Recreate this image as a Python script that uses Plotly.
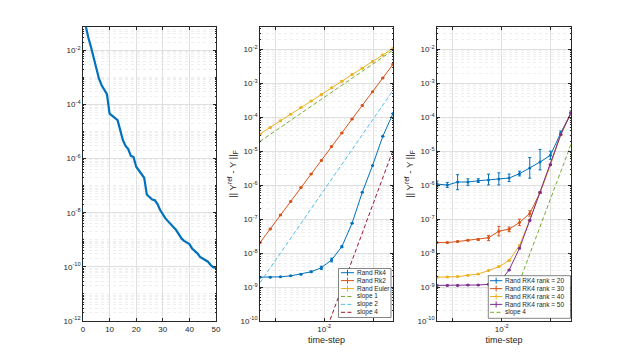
import plotly.graph_objects as go

# ---------------- data ----------------
# left panel
iter_idx = list(range(0, 51))
sv_log = [-0.65, -1.14, -1.53, -1.88, -2.27, -2.68, -3.05, -3.29, -3.45, -3.62,
          -4.34, -4.41, -4.48, -4.58, -4.95, -5.32, -5.53, -5.65, -5.90, -5.94,
          -6.30, -6.43, -6.55, -6.71, -7.33, -7.44, -7.51, -7.54, -7.68, -7.90,
          -8.06, -8.21, -8.32, -8.42, -8.52, -8.64, -8.79, -8.95, -9.04, -9.11,
          -9.16, -9.32, -9.40, -9.50, -9.63, -9.69, -9.72, -9.81, -9.93, -10.02,
          -10.03]
sv_values = [10 ** v for v in sv_log]

# time steps (shared by middle and right panels)
dt = [4.81e-4, 7.80e-4, 1.262e-3, 2.047e-3, 3.32e-3, 5.37e-3, 8.71e-3,
      1.41e-2, 2.29e-2, 3.71e-2, 6.01e-2, 9.75e-2, 0.158, 0.256]
dt_ends = [dt[0], dt[-1]]

# middle panel
rand_rk4 = [1.95e-9, 1.95e-9, 2.0e-9, 2.14e-9, 2.40e-9, 2.82e-9, 3.72e-9,
            6.3e-9, 1.55e-8, 7.6e-8, 6.2e-7, 3.8e-6, 2.75e-5, 1.29e-4]
rand_rk4_err = [0, 0, 0, 0.05e-9, 0.1e-9, 0.15e-9, 0.4e-9,
                0.8e-9, 1.0e-9, 0, 0, 0, 0, 0]
rand_rk2 = [2.04e-8, 5.13e-8, 1.32e-7, 3.31e-7, 8.51e-7, 2.14e-6, 5.37e-6,
            1.38e-5, 3.47e-5, 8.91e-5, 2.24e-4, 5.62e-4, 1.45e-3, 3.63e-3]
rand_euler = [3.24e-5, 5.0e-5, 7.9e-5, 1.23e-4, 1.95e-4, 3.0e-4, 4.7e-4,
              7.4e-4, 1.15e-3, 1.82e-3, 2.8e-3, 4.4e-3, 6.9e-3, 1.07e-2]
slope1_mid = [1.95e-5, 9.5e-3]
slope2_mid = [1.35e-9, 6.2e-4]
slope4_mid = [3.0e-16, 1.07e-5]

# right panel
rank20 = [1.08e-6, 1.01e-6, 1.24e-6, 1.24e-6, 1.35e-6, 1.42e-6, 1.52e-6,
          1.63e-6, 2.18e-6, 3.21e-6, 4.82e-6, 7.59e-6, 3.46e-5, 1.35e-4]
rank20_plus = [0.25e-6, 0.2e-6, 0.8e-6, 0.3e-6, 0.2e-6, 0.7e-6, 0.8e-6,
               0.5e-6, 0.4e-6, 3.3e-6, 6.5e-6, 2.5e-6, 0.5e-5, 0.2e-4]
rank20_minus = [0.2e-6, 0.15e-6, 0.5e-6, 0.25e-6, 0.15e-6, 0.4e-6, 0.5e-6,
                0.35e-6, 0.3e-6, 1.6e-6, 2.0e-6, 1.8e-6, 0.4e-5, 0.2e-4]
rank30 = [2.04e-8, 2.04e-8, 2.19e-8, 2.40e-8, 2.52e-8, 2.83e-8, 4.42e-8,
          5.07e-8, 7.98e-8, 1.47e-7, 6.12e-7, 4.02e-6, 3.09e-5, 1.35e-4]
rank30_plus = [0.05e-8, 0.05e-8, 0.1e-8, 0.1e-8, 0.15e-8, 0.5e-8, 1.7e-8,
               0.8e-8, 2.0e-8, 3.0e-8, 0.2e-7, 0.1e-6, 0.1e-5, 0.1e-4]
rank30_minus = [0.05e-8, 0.05e-8, 0.1e-8, 0.1e-8, 0.15e-8, 0.5e-8, 1.2e-8,
                0.8e-8, 1.5e-8, 2.5e-8, 0.2e-7, 0.1e-6, 0.1e-5, 0.1e-4]
rank40 = [1.94e-9, 1.98e-9, 2.03e-9, 2.22e-9, 2.43e-9, 3.05e-9, 4.0e-9,
          6.02e-9, 1.67e-8, 9.55e-8, 6.12e-7, 4.02e-6, 3.09e-5, 1.35e-4]
rank50 = [1.12e-9, 1.12e-9, 1.12e-9, 1.15e-9, 1.15e-9, 1.20e-9, 1.32e-9,
          3.19e-9, 1.39e-8, 9.14e-8, 6.12e-7, 4.02e-6, 3.09e-5, 1.35e-4]
slope4_right = [5.0e-16, 1.6e-5]

# tick labels
left_y_ticks = [1e-12, 1e-10, 1e-8, 1e-6, 1e-4, 1e-2]
left_y_text = ["10<sup>-12</sup>", "10<sup>-10</sup>", "10<sup>-8</sup>",
               "10<sup>-6</sup>", "10<sup>-4</sup>", "10<sup>-2</sup>"]
left_x_ticks = [0, 10, 20, 30, 40, 50]
err_y_ticks = [1e-10, 1e-9, 1e-8, 1e-7, 1e-6, 1e-5, 1e-4, 1e-3, 1e-2]
err_y_text = ["10<sup>-10</sup>", "10<sup>-9</sup>", "10<sup>-8</sup>",
              "10<sup>-7</sup>", "10<sup>-6</sup>", "10<sup>-5</sup>",
              "10<sup>-4</sup>", "10<sup>-3</sup>", "10<sup>-2</sup>"]
dt_label_ticks = [1e-2]
dt_label_text = ["10<sup>-2</sup>"]
dt_unlabeled_ticks = [1e-3, 1e-1]

mid_names = ["Rand Rk4", "Rand Rk2", "Rand Euler", "slope 1", "slope 2", "slope 4"]
right_names = ["Rand RK4 rank = 20", "Rand RK4 rank = 30", "Rand RK4 rank = 40",
               "Rand RK4 rank = 50", "slope 4"]

# ---------------- style ----------------
C_BLUE, C_ORANGE, C_YELLOW = "#0072BD", "#D95319", "#EDB120"
C_PURPLE, C_GREEN, C_CYAN, C_RED = "#7E2F8E", "#77AC30", "#4DBEEE", "#A2142F"
AX = "#262626"
FONT = "Liberation Sans, Arial, sans-serif"
GRID = "#e0e0e0"
MINOR = "#efefef"
DASH = "4px,2.5px"

OFF = 8                      # page body margin
W, H = 630 - OFF, 361 - OFF
ML, MR, MT, MB = 83 - OFF, 59, 27 - OFF, 40
PW, PH = W - ML - MR, H - MT - MB


def px_x(p):                 # page pixel -> paper fraction
    return (p - OFF - ML) / PW


def px_y(p):
    return (H + OFF - MB - p) / PH


fig = go.Figure()

# left
fig.add_trace(go.Scatter(x=iter_idx, y=sv_values, mode="lines",
                         line=dict(color=C_BLUE, width=2.2),
                         xaxis="x", yaxis="y", showlegend=False))


def err_trace(x, y, color, name, xa, ya, arr=None, plus=None, minus=None):
    if plus is not None:
        ey = dict(type="data", symmetric=False, array=plus, arrayminus=minus,
                  color=color, thickness=1, width=1.5)
    elif arr is not None:
        ey = dict(type="data", array=arr, color=color, thickness=1, width=1.5)
    else:
        ey = dict(type="percent", value=3, color=color, thickness=1, width=1.5)
    return go.Scatter(x=x, y=y, mode="lines+markers", name=name,
                      line=dict(color=color, width=1),
                      marker=dict(color=color, size=3),
                      error_y=ey, xaxis=xa, yaxis=ya, showlegend=False)


# middle
fig.add_trace(err_trace(dt, rand_rk4, C_BLUE, mid_names[0], "x2", "y2", arr=rand_rk4_err))
fig.add_trace(err_trace(dt, rand_rk2, C_ORANGE, mid_names[1], "x2", "y2"))
fig.add_trace(err_trace(dt, rand_euler, C_YELLOW, mid_names[2], "x2", "y2"))
for yv, col, nm in [(slope1_mid, C_GREEN, mid_names[3]),
                    (slope2_mid, C_CYAN, mid_names[4]),
                    (slope4_mid, C_RED, mid_names[5])]:
    fig.add_trace(go.Scatter(x=dt_ends, y=yv, mode="lines", name=nm,
                             line=dict(color=col, width=1, dash=DASH),
                             xaxis="x2", yaxis="y2", showlegend=False))

# right
fig.add_trace(err_trace(dt, rank20, C_BLUE, right_names[0], "x3", "y3",
                        plus=rank20_plus, minus=rank20_minus))
fig.add_trace(err_trace(dt, rank30, C_ORANGE, right_names[1], "x3", "y3",
                        plus=rank30_plus, minus=rank30_minus))
fig.add_trace(err_trace(dt, rank40, C_YELLOW, right_names[2], "x3", "y3"))
fig.add_trace(err_trace(dt, rank50, C_PURPLE, right_names[3], "x3", "y3"))
fig.add_trace(go.Scatter(x=dt_ends, y=slope4_right, mode="lines", name=right_names[4],
                         line=dict(color=C_GREEN, width=1, dash=DASH),
                         xaxis="x3", yaxis="y3", showlegend=False))

common = dict(showline=True, linecolor=AX, linewidth=0.8, mirror="allticks",
              ticks="inside", ticklen=3, tickcolor=AX, showgrid=True,
              gridcolor=GRID, gridwidth=1, zeroline=False,
              tickfont=dict(family=FONT, size=8, color=AX))
minor_log = dict(dtick="D1", showgrid=True, gridcolor=MINOR, griddash="dot",
                 ticks="inside", ticklen=1.5, tickcolor=AX)
minor_dt = dict(tickvals=dt_unlabeled_ticks, showgrid=True, gridcolor=GRID,
                griddash="solid", ticks="inside", ticklen=3, tickcolor=AX)

dom_y = [0, 1]
d1 = [px_x(83), px_x(216)]
d2 = [px_x(260), px_x(393)]
d3 = [px_x(437), px_x(571)]

ytitle = dict(text="|| Y<sup>ref</sup> - Y ||<sub>F</sub>",
              font=dict(family=FONT, size=9.5, color=AX), standoff=2)
xtitle = dict(text="time-step", font=dict(family=FONT, size=9, color=AX), standoff=4)

fig.update_layout(
    width=W, height=H, margin=dict(l=ML, r=MR, t=MT, b=MB),
    paper_bgcolor="white", plot_bgcolor="white", showlegend=False,
    xaxis=dict(domain=d1, range=[0, 50], tickvals=left_x_ticks, anchor="y", **common),
    yaxis=dict(domain=dom_y, type="log", range=[-12, -1.14], tickvals=left_y_ticks,
               ticktext=left_y_text, anchor="x", minor=minor_log, **common),
    xaxis2=dict(domain=d2, type="log", range=[-3.318, -0.592], tickvals=dt_label_ticks,
                ticktext=dt_label_text, anchor="y2", title=xtitle, minor=minor_dt, **common),
    yaxis2=dict(domain=dom_y, type="log", range=[-10, -1.34], tickvals=err_y_ticks,
                ticktext=err_y_text, anchor="x2", minor=minor_log, title=ytitle, **common),
    xaxis3=dict(domain=d3, type="log", range=[-3.318, -0.592], tickvals=dt_label_ticks,
                ticktext=dt_label_text, anchor="y3", title=xtitle, minor=minor_dt, **common),
    yaxis3=dict(domain=dom_y, type="log", range=[-10, -1.34], tickvals=err_y_ticks,
                ticktext=err_y_text, anchor="x3", minor=minor_log, title=ytitle, **common),
)

# ---------------- legends (drawn compactly, MATLAB style) ----------------
shapes = []
annots = []


def add_legend(box, names, colors, dashes, errbars, sample, text_x, row0, pitch):
    x0, x1, y0, y1 = box
    shapes.append(dict(type="rect", xref="paper", yref="paper", layer="above",
                       x0=px_x(x0), x1=px_x(x1), y0=px_y(y1), y1=px_y(y0),
                       fillcolor="white", line=dict(color="#333333", width=0.6)))
    for i, (nm, col, ds, eb) in enumerate(zip(names, colors, dashes, errbars)):
        yy = row0 + i * pitch
        shapes.append(dict(type="line", xref="paper", yref="paper", layer="above",
                           x0=px_x(sample[0]), x1=px_x(sample[1]),
                           y0=px_y(yy), y1=px_y(yy),
                           line=dict(color=col, width=1, dash=ds)))
        if eb:
            xm = (sample[0] + sample[1]) / 2
            shapes.append(dict(type="line", xref="paper", yref="paper", layer="above",
                               x0=px_x(xm), x1=px_x(xm),
                               y0=px_y(yy - 3), y1=px_y(yy + 3),
                               line=dict(color=col, width=1)))
        annots.append(dict(x=px_x(text_x), y=px_y(yy), xref="paper", yref="paper",
                           text=nm, showarrow=False, xanchor="left", yanchor="middle",
                           font=dict(family=FONT, size=6.5, color=AX)))


add_legend((338.5, 391, 268.5, 317.5), mid_names,
           [C_BLUE, C_ORANGE, C_YELLOW, C_GREEN, C_CYAN, C_RED],
           ["solid", "solid", "solid", DASH, DASH, DASH],
           [True, True, True, False, False, False],
           (341, 354), 355, 272.7, 7.92)
add_legend((488.3, 570.5, 275.7, 318.3), right_names,
           [C_BLUE, C_ORANGE, C_YELLOW, C_PURPLE, C_GREEN],
           ["solid", "solid", "solid", "solid", DASH],
           [True, True, True, True, False],
           (490, 502.3), 503.3, 280.7, 7.9)

fig.update_layout(shapes=shapes, annotations=annots)
fig.write_html("out.html")
